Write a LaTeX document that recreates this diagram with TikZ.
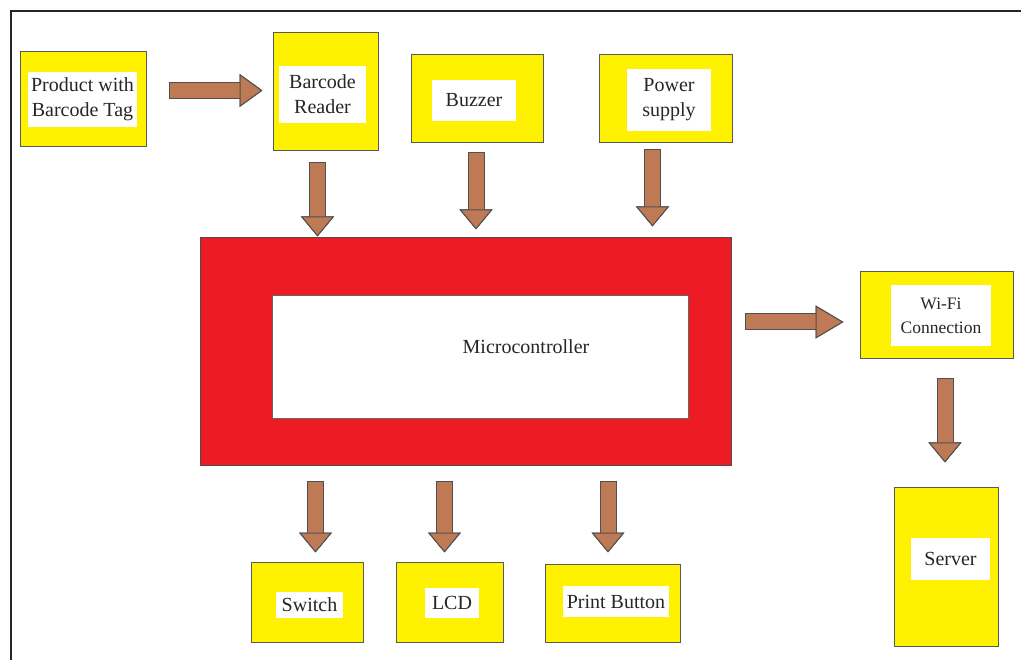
\documentclass[tikz,border=0pt]{standalone}
\usepackage{fontspec}
\setmainfont{Liberation Serif}
\usetikzlibrary{arrows.meta,calc}
\definecolor{boxyellow}{HTML}{FFF200}
\definecolor{mcured}{HTML}{ED1C24}
\definecolor{arrowbrown}{HTML}{BD7A55}
\definecolor{arrowedge}{HTML}{505050}
\tikzset{
	unit/.style={draw=black!65,line width=1pt,fill=boxyellow,inner sep=0pt},
	tag/.style={fill=white,inner sep=0pt,align=center,text=black!85,font=\fontsize{20}{25}\selectfont},
	fatarrow/.style={draw=arrowbrown,line width=15pt,-{Triangle[length=#1,width=33pt,line width=1pt,color=arrowedge,fill=arrowbrown]},preaction={draw=arrowedge,line width=17pt,shorten <=-1pt}},
	fatarrow/.default=20pt
}
\begin{document}
\begin{tikzpicture}[x=1pt,y=-1pt]
	\useasboundingbox (0,0) rectangle (1021,660);
	\draw[line width=2pt,black!85] (11,660) -- (11,11) -- (1021,11);
	\node[unit,minimum width=126pt,minimum height=95pt] (product) at (83,99.5) {};
	\node[tag,minimum width=109pt,minimum height=55pt] (producttag) at (82.5,99.5) {Product with\\Barcode Tag};
	\node[unit,minimum width=105pt,minimum height=118pt] (reader) at (325.5,92) {};
	\node[tag,minimum width=87pt,minimum height=57pt] (readertag) at (322.5,94.5) {Barcode\\Reader};
	\node[unit,minimum width=132pt,minimum height=88pt] (buzzer) at (477,99) {};
	\node[tag,minimum width=84pt,minimum height=41pt] (buzzertag) at (474,100.5) {Buzzer};
	\node[unit,minimum width=133pt,minimum height=88pt] (power) at (665.5,99) {};
	\node[tag,minimum width=84pt,minimum height=62pt] (powertag) at (669,100) {Power\\supply};
	\node[draw=black!70,line width=1pt,fill=mcured,minimum width=531pt,minimum height=228pt] (mcu) at (465.5,352) {};
	\node[draw=black!60,line width=1pt,fill=white,minimum width=416pt,minimum height=123pt] (mcuwin) at (480,357.5) {};
	\node[text=black!85,font=\fontsize{20}{25}\selectfont] (mcutext) at (526,347) {Microcontroller};
	\node[unit,minimum width=153pt,minimum height=87pt] (wifi) at (936.5,315.5) {};
	\node[tag,minimum width=100pt,minimum height=61pt,font=\fontsize{17.5}{24}\selectfont] (wifitag) at (941,315.5) {Wi-Fi\\Connection};
	\node[unit,minimum width=104pt,minimum height=159pt] (server) at (946,566.5) {};
	\node[tag,minimum width=79pt,minimum height=42pt] (servertag) at (950.5,559) {Server};
	\node[unit,minimum width=112pt,minimum height=80pt] (switch) at (307,602) {};
	\node[tag,minimum width=67pt,minimum height=26pt] (switchtag) at (309.5,605) {Switch};
	\node[unit,minimum width=107pt,minimum height=80pt] (lcd) at (449.5,602) {};
	\node[tag,minimum width=54pt,minimum height=30pt] (lcdtag) at (452,603) {LCD};
	\node[unit,minimum width=135pt,minimum height=78pt] (print) at (612.5,603) {};
	\node[tag,minimum width=106pt,minimum height=31pt] (printtag) at (616,601.5) {Print Button};
	\draw[fatarrow=23pt] ([xshift=23pt,yshift=9pt]product.east) coordinate (t1) -- ($(reader.west |- t1)+(-10,0)$);
	\draw[fatarrow] ([xshift=-8pt,yshift=-12pt]reader.south) coordinate (t2) -- ($(t2 |- mcu.north)+(0,-1)$);
	\draw[fatarrow] ([xshift=-1pt,yshift=-10pt]buzzer.south) coordinate (t3) -- ($(t3 |- mcu.north)+(0,-8)$);
	\draw[fatarrow] ([xshift=-13pt,yshift=-7pt]power.south) coordinate (t4) -- ($(t4 |- mcu.north)+(0,-11)$);
	\draw[fatarrow=28pt] ([xshift=14pt,yshift=30pt]mcu.east) coordinate (t5) -- ($(wifi.west |- t5)+(-16,0)$);
	\draw[fatarrow] ([xshift=8.5pt,yshift=-20pt]wifi.south) coordinate (t6) -- ($(t6 |- server.north)+(0,-24)$);
	\draw[fatarrow] ($(switch.north |- mcu.south)+(8.5,15)$) coordinate (t7) -- ($(t7 |- switch.north)+(0,-9)$);
	\draw[fatarrow] ($(lcd.north |- mcu.south)+(-5,15)$) coordinate (t8) -- ($(t8 |- lcd.north)+(0,-9)$);
	\draw[fatarrow] ($(print.north |- mcu.south)+(-4.5,15)$) coordinate (t9) -- ($(t9 |- print.north)+(0,-11)$);
\end{tikzpicture}
\end{document}
